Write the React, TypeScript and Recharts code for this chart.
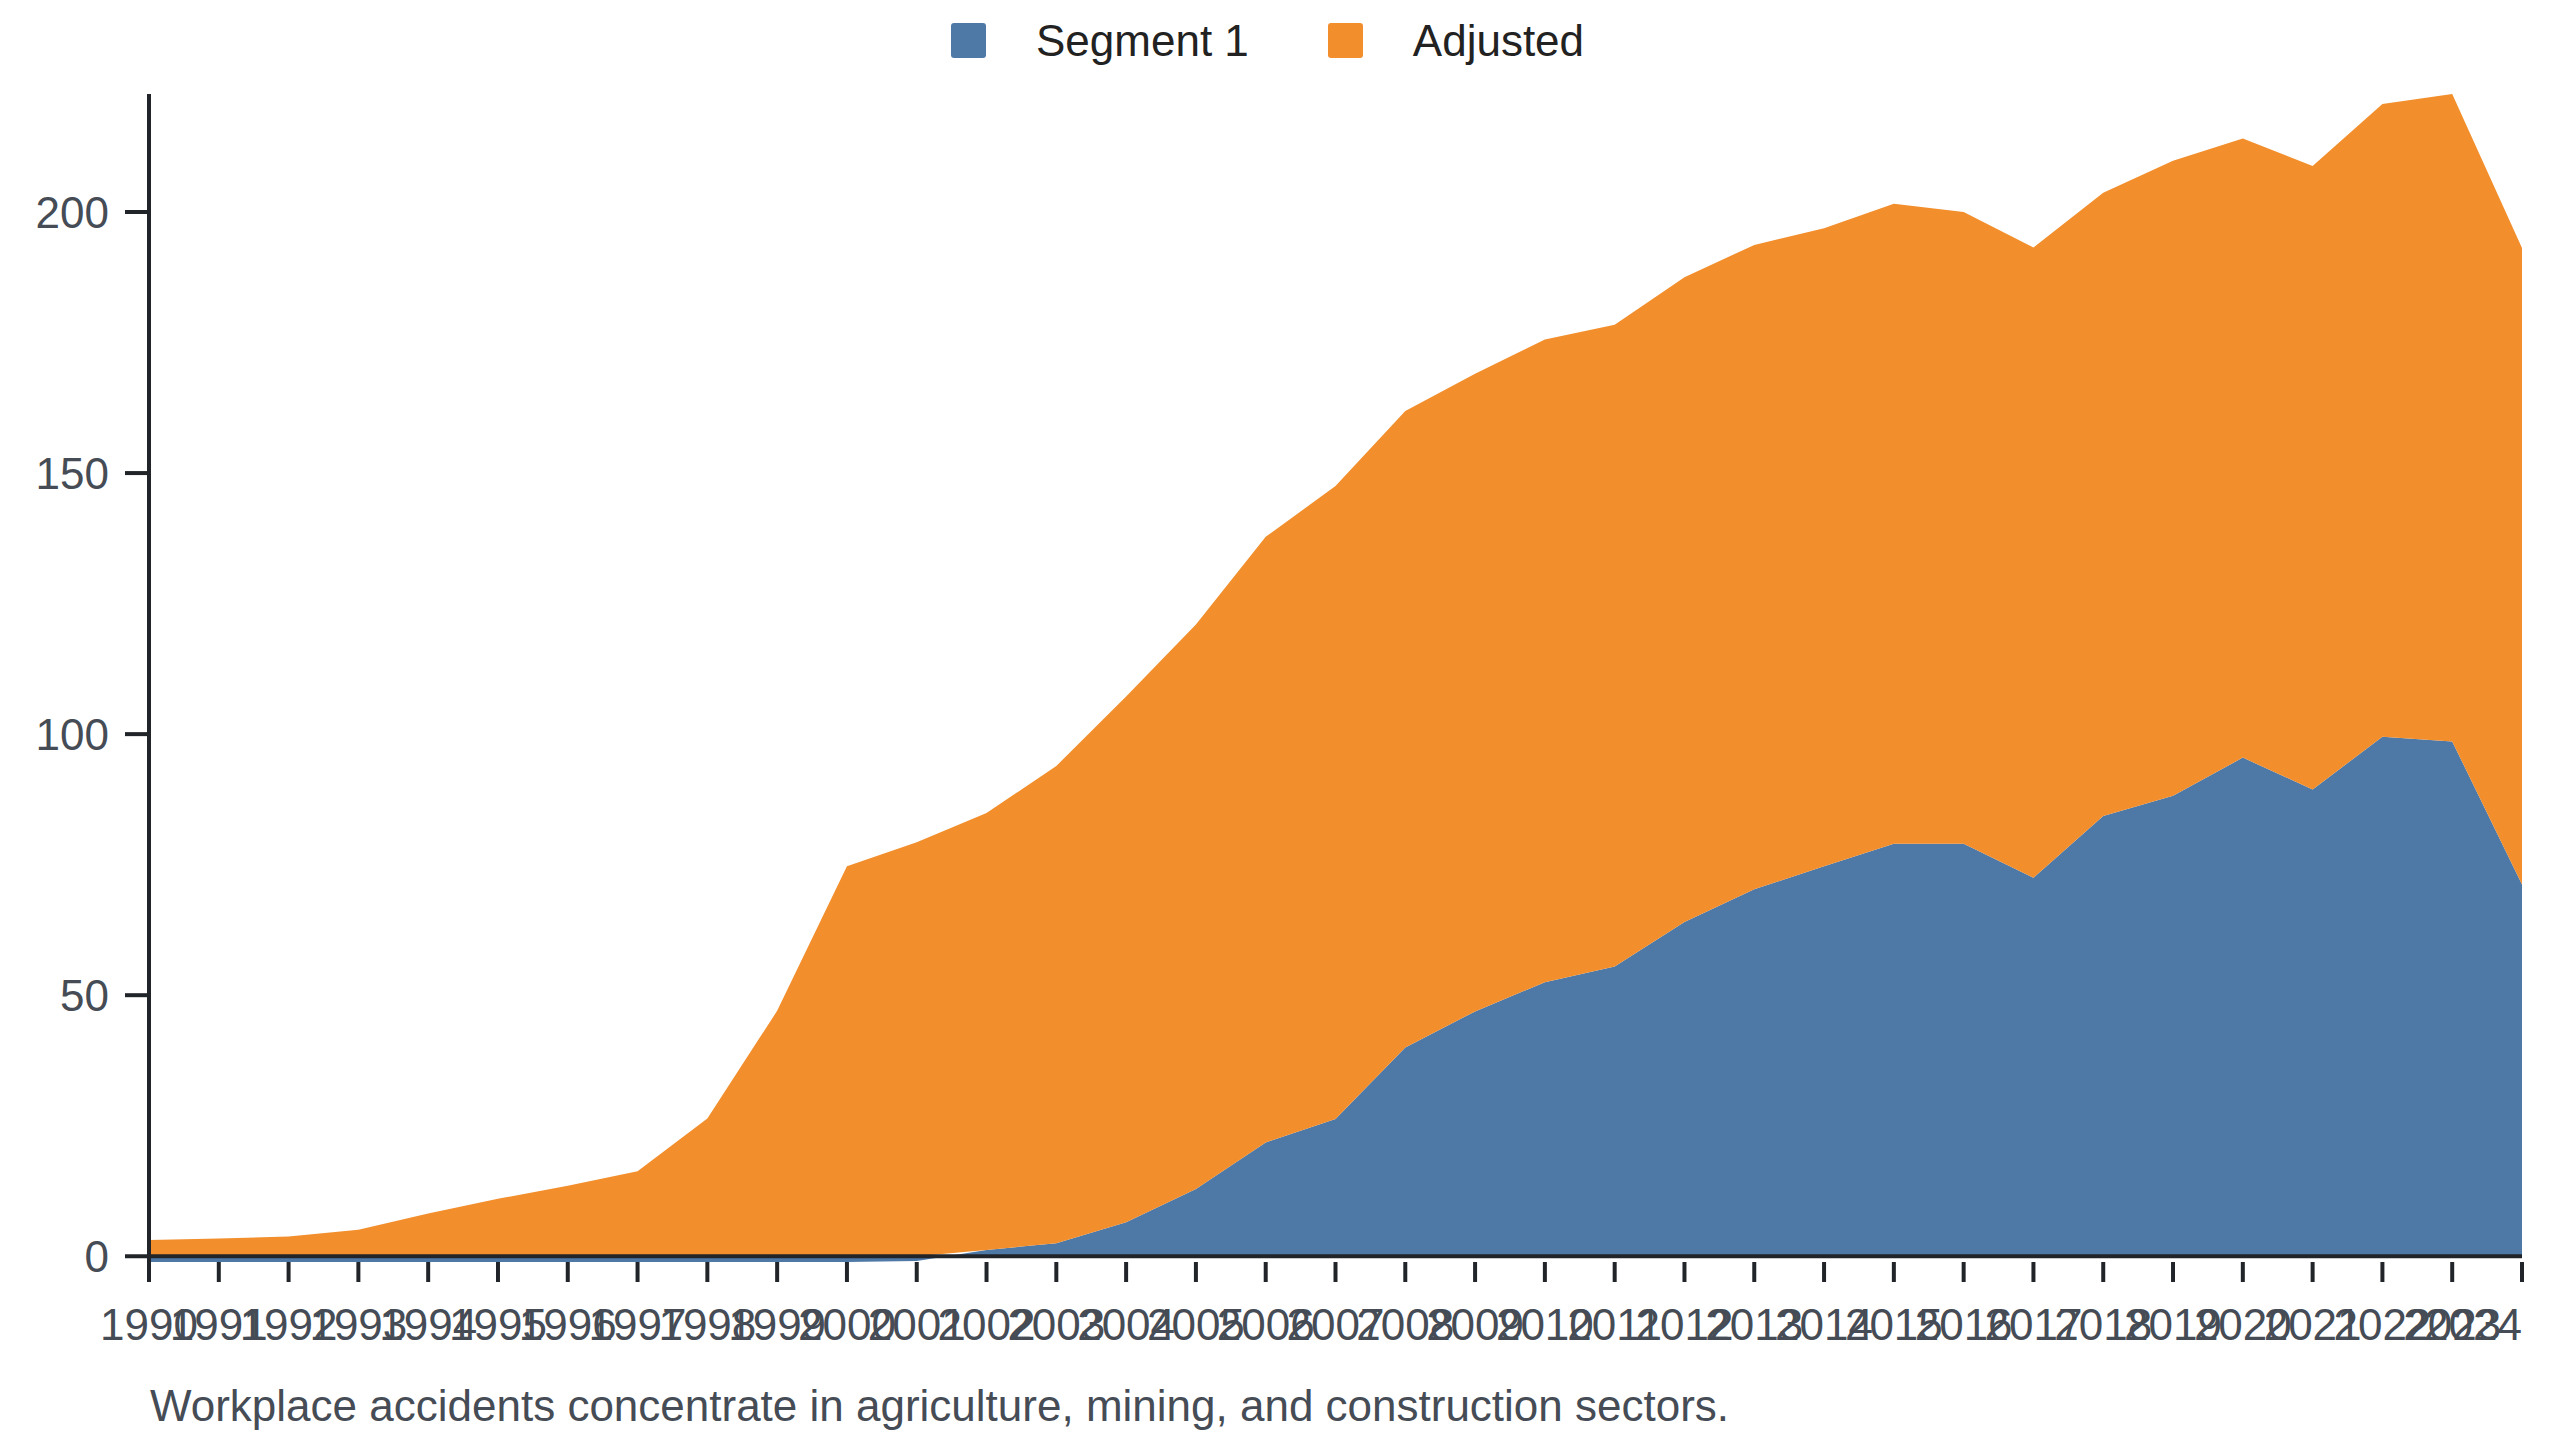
import React from 'react';
import { AreaChart, Area, XAxis, YAxis, Legend, ReferenceLine } from 'recharts';

const years = [
  '1990', '1991', '1992', '1993', '1994', '1995', '1996', '1997', '1998', '1999',
  '2000', '2001', '2002', '2003', '2004', '2005', '2006', '2007', '2008', '2009',
  '2010', '2011', '2012', '2013', '2014', '2015', '2016', '2017', '2018', '2019',
  '2020', '2021', '2022', '2023', '2024',
];

const segment1 = [
  -1.1, -1.1, -1.1, -1.1, -1.1, -1.1, -1.1, -1.1, -1.1, -1.1,
  -1.1, -0.9, 1.2, 2.5, 6.5, 12.9, 21.8, 26.3, 40.0, 46.9,
  52.5, 55.5, 64.0, 70.3, 74.7, 79.0, 79.0, 72.5, 84.3, 88.2,
  95.5, 89.4, 99.5, 98.6, 71.2,
];

const adjusted = [
  3.1, 3.4, 3.8, 5.1, 8.2, 11.0, 13.5, 16.3, 26.4, 47.0,
  74.7, 79.3, 83.7, 91.4, 100.7, 108.1, 116.0, 121.2, 121.9, 122.1,
  123.1, 122.9, 123.5, 123.4, 122.2, 122.6, 121.0, 120.7, 119.4, 121.6,
  118.6, 119.4, 121.2, 124.0, 121.9,
];

const yTicks = [0, 50, 100, 150, 200];
const seriesKeys = ['segment1', 'adjusted'];
const seriesNames = ['Segment 1', 'Adjusted'];
const seriesColors = ['#4e79a7', '#f28e2b'];
const caption = 'Workplace accidents concentrate in agriculture, mining, and construction sectors.';

const data = years.map((year, i) => ({
  year,
  segment1: segment1[i],
  adjusted: adjusted[i],
}));

const FONT = '"Liberation Sans", Arial, Helvetica, sans-serif';
const AXIS = '#212428';
const TEXT = '#464c55';
const FS = 44;

const renderLegend = () => (
  <div
    style={{
      display: 'flex',
      paddingLeft: 951,
      paddingTop: 21,
      height: 60,
      boxSizing: 'border-box',
      fontFamily: FONT,
    }}
  >
    {seriesNames.map((name, i) => (
      <div
        key={name}
        style={{ display: 'flex', alignItems: 'center', marginRight: i === 0 ? 79 : 0 }}
      >
        <div
          style={{ width: 35, height: 35, background: seriesColors[i], borderRadius: 3 }}
        />
        <span
          style={{ marginLeft: 50, fontSize: FS, lineHeight: '35px', color: '#222222', whiteSpace: 'nowrap' }}
        >
          {name}
        </span>
      </div>
    ))}
  </div>
);

const XTick = (props: any) => {
  const { x, y, payload, index } = props;
  const last = index === years.length - 1;
  return (
    <text
      x={x}
      y={y}
      dy="0.71em"
      textAnchor={last ? 'end' : 'middle'}
      fill={TEXT}
      fontSize={FS}
      fontFamily={FONT}
    >
      {payload.value}
    </text>
  );
};

export default function App() {
  return (
    <div style={{ position: 'absolute', left: 0, top: 0, width: 2560, height: 1440, background: '#ffffff' }}>
      <AreaChart
        width={2560}
        height={1440}
        data={data}
        stackOffset="sign"
        margin={{ top: 34, right: 38, bottom: 98, left: 0 }}
      >
        <Legend
          verticalAlign="top"
          align="left"
          content={renderLegend}
          wrapperStyle={{ top: 0, left: 0, width: 2560, height: 60 }}
        />
        <XAxis
          dataKey="year"
          interval={0}
          axisLine={false}
          tickLine={{ stroke: AXIS, strokeWidth: 4 }}
          tickSize={20}
          tickMargin={27}
          height={80}
          tick={<XTick />}
        />
        <YAxis
          type="number"
          width={149}
          domain={['dataMin', 'dataMax']}
          ticks={yTicks}
          axisLine={{ stroke: AXIS, strokeWidth: 4 }}
          tickLine={{ stroke: AXIS, strokeWidth: 4 }}
          tickSize={24}
          tickMargin={16}
          tick={{ fill: TEXT, fontSize: FS, fontFamily: FONT }}
        />
        {seriesKeys.map((key, i) => (
          <Area
            key={key}
            type="linear"
            dataKey={key}
            name={seriesNames[i]}
            stackId="1"
            stroke="none"
            fill={seriesColors[i]}
            fillOpacity={1}
            isAnimationActive={false}
          />
        ))}
        <ReferenceLine y={0} stroke={AXIS} strokeWidth={4} />
      </AreaChart>
      <div
        style={{
          position: 'absolute',
          left: 150,
          top: 1384,
          fontFamily: FONT,
          fontSize: FS,
          lineHeight: `${FS}px`,
          color: TEXT,
          whiteSpace: 'nowrap',
        }}
      >
        {caption}
      </div>
    </div>
  );
}
